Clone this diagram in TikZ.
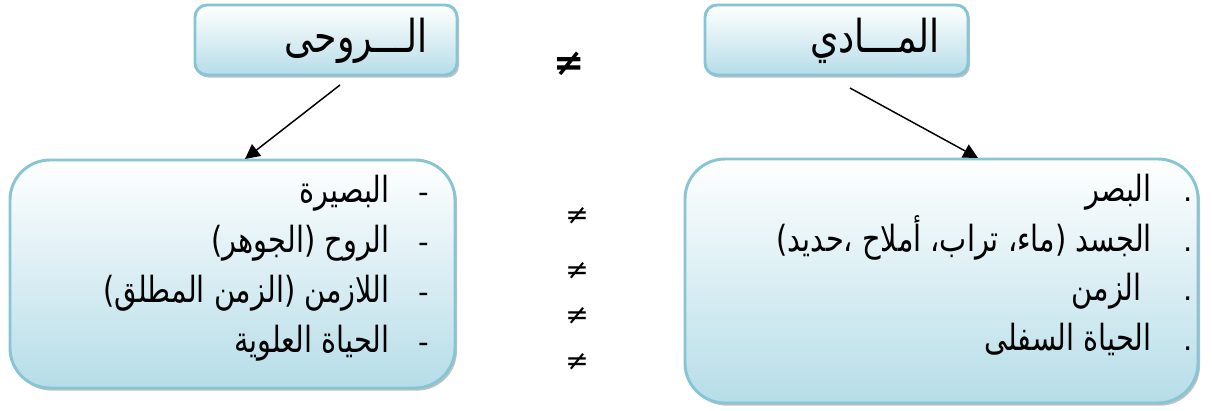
\documentclass[tikz,border=0pt]{standalone}
\usepackage{fontspec}
\setmainfont{DejaVu Sans}
\newfontfamily\arabicfont[Script=Arabic,FakeStretch=0.8]{DejaVu Sans}
\TeXXeTstate=1
\usetikzlibrary{shadows,arrows.meta}
\definecolor{boxedge}{RGB}{135,196,212}
\definecolor{boxbottom}{RGB}{182,221,232}
\tikzset{
  boxstyle/.style={draw=boxedge, line width=2.2pt, top color=white, bottom color=boxbottom,
    drop shadow={shadow xshift=1.5pt, shadow yshift=-2pt, fill=gray!70, opacity=0.7},
    inner sep=0pt, shape=rectangle},
  headbox/.style={boxstyle, rounded corners=9pt, minimum height=52.5pt},
  listbox/.style={boxstyle, rounded corners=30pt},
  artext/.style={font=\arabicfont\fontsize{27}{32}\selectfont, inner sep=0pt, anchor=base east},
  headtext/.style={font=\arabicfont\fontsize{34}{40}\selectfont, inner sep=0pt, anchor=base east},
  marktext/.style={font=\fontsize{22}{26}\selectfont, inner sep=0pt, anchor=base},
  neqsmall/.style={font=\fontsize{21}{24}\selectfont, inner sep=0pt},
  neqbig/.style={font=\bfseries\fontsize{28}{32}\selectfont, inner sep=0pt},
  link/.style={line width=1.1pt, -{Triangle[length=11pt,width=11pt]}},
}
\begin{document}
\begin{tikzpicture}[x=0.75pt,y=-0.75pt]
\useasboundingbox (0,0) rectangle (1212,410);
% boxes
\node[headbox, minimum width=196.5pt] (ruhi) at (326,40) {};
\node[headbox, minimum width=197.25pt] (maddi) at (836.5,40) {};
\node[listbox, minimum width=333.75pt, minimum height=171pt] (leftlist) at (232.5,274) {};
\node[listbox, minimum width=384.75pt, minimum height=183pt] (rightlist) at (941.5,281) {};
% titles
\node[headtext] (ruhitext) at (428,53) {\beginR الـــروحى\endR};
\node[headtext] (madditext) at (940,53) {\beginR المـــادي\endR};
% left list
\node[marktext] (ld1) at (424,202) {-};
\node[marktext] (ld2) at (424,252) {-};
\node[marktext] (ld3) at (424,302) {-};
\node[marktext] (ld4) at (424,352) {-};
\node[artext] (lt1) at (390,202) {\beginR البصيرة\endR};
\node[artext] (lt2) at (390,252) {\beginR الروح (الجوهر)\endR};
\node[artext] (lt3) at (390,302) {\beginR اللازمن (الزمن المطلق)\endR};
\node[artext] (lt4) at (390,352) {\beginR الحياة العلوية\endR};
% right list
\node[marktext] (rd1) at (1188,201) {.};
\node[marktext] (rd2) at (1188,251) {.};
\node[marktext] (rd3) at (1188,300) {.};
\node[marktext] (rd4) at (1188,350) {.};
\node[artext] (rt1) at (1152,201) {\beginR البصر\endR};
\node[artext] (rt2) at (1152,251) {\beginR الجسد (ماء، تراب، أملاح ،حديد)\endR};
\node[artext] (rt3) at (1142,300) {\beginR الزمن\endR};
\node[artext] (rt4) at (1152,350) {\beginR الحياة السفلى\endR};
% not-equal signs
\node[neqbig] (nq0) at (569,64) {≠};
\node[neqsmall] (nq1) at (577,216) {≠};
\node[neqsmall] (nq2) at (577,271) {≠};
\node[neqsmall] (nq3) at (577,316) {≠};
\node[neqsmall] (nq4) at (577,362) {≠};
% connectors
\coordinate (ruhistart) at (340,85);
\coordinate (ruhiend) at (245,159);
\coordinate (maddistart) at (850,88);
\coordinate (maddiend) at (978,158);
\draw[link] (ruhistart) -- (ruhiend);
\draw[link] (maddistart) -- (maddiend);
\end{tikzpicture}
\end{document}
